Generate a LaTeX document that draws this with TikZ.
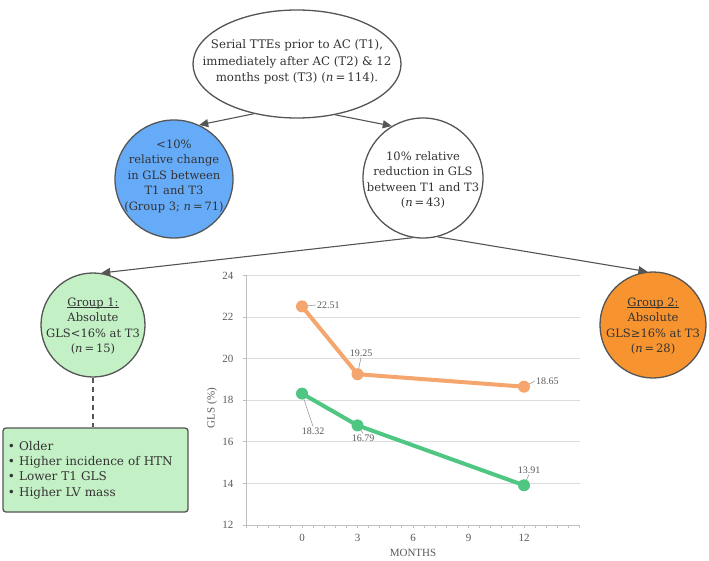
\documentclass[tikz,border=0pt]{standalone}
\usepackage{fontspec}
\setmainfont{DejaVu Serif}
\newfontfamily\chartfont{Liberation Serif}
\usetikzlibrary{shapes.geometric,arrows.meta}
\newcommand\grpul[1]{\setbox0\hbox{#1}\rlap{\rule[-1.8pt]{\wd0}{0.6pt}}\box0}
\definecolor{edgec}{HTML}{555555}
\definecolor{txtc}{HTML}{333333}
\definecolor{blueC}{HTML}{66ABF8}
\definecolor{greenC}{HTML}{C4F0C5}
\definecolor{orangeC}{HTML}{F7942F}
\definecolor{serO}{HTML}{F4A66E}
\definecolor{serG}{HTML}{4FC783}
\definecolor{gridc}{HTML}{DDDDDD}
\definecolor{axisc}{HTML}{BFBFBF}
\definecolor{lblc}{HTML}{595959}
\tikzset{
  bub/.style={circle, draw=edgec, line width=1.3pt, inner sep=0pt},
  bubtxt/.style={text=txtc, align=center, inner sep=0pt,
    font=\fontsize{11.5}{15.5}\selectfont},
  conn/.style={draw=edgec, line width=1.1pt, -{Triangle[length=9pt,width=8pt]}},
  gridln/.style={draw=gridc, line width=0.9pt},
  axisln/.style={draw=axisc, line width=0.9pt},
  ticklbl/.style={text=lblc, font=\chartfont\fontsize{11}{12}\selectfont, inner sep=0pt},
  datalbl/.style={text=lblc, font=\chartfont\fontsize{10}{11}\selectfont, inner sep=1pt},
  leader/.style={draw=lblc!60, line width=0.6pt},
  serline/.style={line width=4pt, line join=round},
}
\begin{document}
\begin{tikzpicture}[x=1pt,y=-1pt]
\useasboundingbox (0,0) rectangle (709,560);

% top ellipse
\node[ellipse, draw=edgec, line width=1.3pt, inner sep=0pt,
  minimum width=208pt, minimum height=108pt] (top) at (297,64) {};
\node[bubtxt, font=\fontsize{11.8}{16.5}\selectfont] (topt) at (297,62)
  {Serial TTEs prior to AC (T1),\\immediately after AC (T2) \& 12\\months post (T3) (\textit{n}\,=\,114).};

\node[bub, fill=blueC, minimum size=118pt] (blue) at (174,179) {};
\node[bubtxt] (bluet) at (174,176)
  {<10\%\\relative change\\in GLS between\\T1 and T3\\(Group 3; \textit{n}\,=\,71)};
\node[bub, fill=white, minimum size=120pt] (white) at (423,178) {};
\node[bubtxt] (whitet) at (423,180)
  {10\% relative\\reduction in GLS\\between T1 and T3\\(\textit{n}\,=\,43)};

\node[bub, fill=greenC, minimum size=104pt] (g1) at (93,325) {};
\node[bubtxt] (g1t) at (93,326)
  {\grpul{Group 1:}\\Absolute\\GLS<16\% at T3\\(\textit{n}\,=\,15)};
\node[bub, fill=orangeC, minimum size=106pt] (g2) at (653,325) {};
\node[bubtxt] (g2t) at (653,326)
  {\grpul{Group 2:}\\Absolute\\GLS≥16\% at T3\\(\textit{n}\,=\,28)};

\node[draw=edgec, line width=1.3pt, fill=greenC, rounded corners=3pt, text=txtc,
  minimum width=185pt, minimum height=84pt, text width=175pt, align=left, inner xsep=5pt,
  font=\fontsize{12}{15.3}\selectfont] (box) at (95.5,470)
  {• Older\\• Higher incidence of HTN\\• Lower T1 GLS\\• Higher LV mass};

\draw[conn] (top.229) -- (blue.65);
\draw[conn] (top.307) -- (white.121);
\draw[conn] (white.260) -- (g1.81);
\draw[conn] (white.284) -- (g2.96);
\draw[draw=edgec, line width=2pt, dash pattern=on 5pt off 4pt] (g1.south) -- (g1.south |- box.north);

% chart
\begin{scope}[shift={(302,774.6)}, x=18.5pt, y=20.8pt]
  \foreach \v in {14,16,...,24} \draw[gridln] (-3,\v) -- (15,\v);
  \draw[axisln] (-3,12) -- (15,12);
  \draw[axisln] (-3,12) -- (-3,24);
  \foreach \i in {0,...,30} \draw[axisln] (-3+0.6*\i,12) -- ++(0pt,-3pt);
  \foreach \v in {12,14,...,24} {
    \draw[axisln] (-3,\v) -- ++(-4pt,0pt);
    \node[ticklbl, anchor=east] (yl\v) at ([xshift=-13pt]-3,\v) {\v};
  }
  \foreach \m in {0,3,6,9,12}
    \node[ticklbl] (xl\m) at ([yshift=-13pt]\m,12) {\m};

  \coordinate (o1) at (0,22.51);
  \coordinate (o2) at (3,19.25);
  \coordinate (o3) at (12,18.65);
  \coordinate (p1) at (0,18.32);
  \coordinate (p2) at (3,16.79);
  \coordinate (p3) at (12,13.91);
\end{scope}

\node[ticklbl, rotate=90] (ylab) at (212,408) {GLS (\%)};
\node[ticklbl] (xlab) at (413,553) {MONTHS};

\node[datalbl, anchor=west] (l1) at (316,305) {22.51};
\node[datalbl] (l2) at (361,353) {19.25};
\node[datalbl, anchor=west] (l3) at (535,381) {18.65};
\node[datalbl] (l4) at (313,431) {18.32};
\node[datalbl] (l5) at (363,438) {16.79};
\node[datalbl] (l6) at (529,470) {13.91};

\draw[leader] (o1) -- (l1.west);
\draw[leader] (o2) -- (l2.south);
\draw[leader] (o3) -- (l3.west);
\draw[leader] (p1) -- (l4.north);
\draw[leader] (p2) -- (l5.north);
\draw[leader] (p3) -- (l6.south);

\draw[serline, serO] (o1) -- (o2) -- (o3);
\draw[serline, serG] (p1) -- (p2) -- (p3);
\foreach \c in {o1,o2,o3} \fill[serO] (\c) circle (6pt);
\foreach \c in {p1,p2,p3} \fill[serG] (\c) circle (6pt);
\end{tikzpicture}
\end{document}
